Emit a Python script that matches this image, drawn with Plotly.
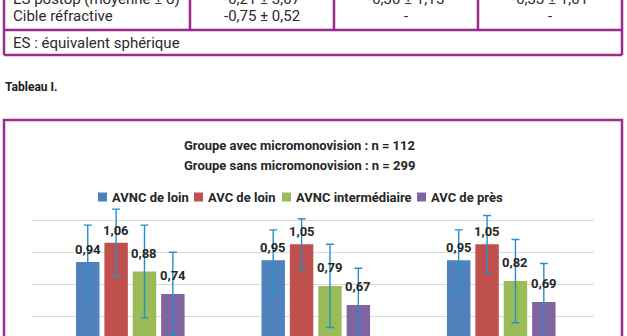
import plotly.graph_objects as go

# ---- data ----
categories = ["Groupe 1", "Groupe 2", "Groupe 3"]
series_names = ["AVNC de loin", "AVC de loin", "AVNC intermédiaire", "AVC de près"]
avnc_loin = [0.94, 0.95, 0.95]
avc_loin = [1.06, 1.05, 1.05]
avnc_inter = [0.88, 0.79, 0.82]
avc_pres = [0.74, 0.67, 0.69]
err_avnc_loin = [0.23, 0.19, 0.19]
err_avc_loin = [0.21, 0.16, 0.18]
err_avnc_inter = [0.29, 0.26, 0.26]
err_avc_pres = [0.26, 0.23, 0.24]

title_lines = ["Groupe avec micromonovision : n = 112",
               "Groupe sans micromonovision : n = 299"]

table_row1 = ["ES postop (moyenne ± σ)", "-0,21 ± 3,07", "-0,30 ± 1,15", "-0,33 ± 1,01"]
table_row2 = ["Cible réfractive", "-0,75 ± 0,52", "-", "-"]
table_note = "ES : équivalent sphérique"
caption = "Tableau I."

series_values = [avnc_loin, avc_loin, avnc_inter, avc_pres]
series_errors = [err_avnc_loin, err_avc_loin, err_avnc_inter, err_avc_pres]
series_colors = ["#4f81bd", "#c0504d", "#9bbb59", "#8064a2"]
label_lift = [12.5, 12.5, 18.5, 18.5]  # px between bar end and label centre

W, H = 627, 336
FONT = "Roboto"
BORDER = "#9c2a8a"
TXT = "#262626"
X_DOMAIN_PX = (32, 594)
X_RANGE = (-0.53, 2.5)
BARGAP, BARGROUPGAP = 0.388, 0.174


def px(x):
    return x / W


def py(y):
    return 1 - y / H


fig = go.Figure()
for name, vals, errs, col in zip(series_names, series_values, series_errors, series_colors):
    fig.add_trace(go.Bar(
        name=name, x=categories, y=vals,
        marker=dict(color=col, line=dict(width=0)),
        error_y=dict(type="data", array=errs, visible=True, color="#2590c8",
                     thickness=1.4, width=4),
        showlegend=False,
    ))

shapes = []
# table borders
line = dict(color=BORDER, width=2.5)
shapes.append(dict(type="line", xref="paper", yref="paper", x0=px(4), x1=px(4), y0=py(-5), y1=py(55), line=line))
shapes.append(dict(type="line", xref="paper", yref="paper", x0=px(622), x1=px(622), y0=py(-5), y1=py(55), line=line))
for xd in (190, 334, 478):
    shapes.append(dict(type="line", xref="paper", yref="paper", x0=px(xd), x1=px(xd), y0=py(-5), y1=py(30), line=line))
shapes.append(dict(type="line", xref="paper", yref="paper", x0=px(4), x1=px(622), y0=py(30), y1=py(30), line=line))
shapes.append(dict(type="line", xref="paper", yref="paper", x0=px(4), x1=px(622), y0=py(55), y1=py(55), line=line))
# chart box
shapes.append(dict(type="rect", xref="paper", yref="paper", x0=px(4), x1=px(622), y0=py(345), y1=py(120),
                   line=line, fillcolor="rgba(0,0,0,0)", layer="below"))

ann = []
col_centers = [None, 262, 406, 550]
for row, yc in ((table_row1, -0.5), (table_row2, 16)):
    for i, t in enumerate(row):
        if i == 0:
            ann.append(dict(text=t, x=px(11), xanchor="left", y=py(yc), yanchor="middle"))
        else:
            ann.append(dict(text=t, x=px(col_centers[i]), xanchor="center", y=py(yc), yanchor="middle"))
ann.append(dict(text=table_note, x=px(11), xanchor="left", y=py(43), yanchor="middle"))
for a in ann:
    a.update(xref="paper", yref="paper", showarrow=False,
             font=dict(family=FONT, size=15, color="#2b2b2b"))
ann.append(dict(text="<b>" + caption + "</b>", x=px(3), xanchor="left", y=py(87), yanchor="middle",
                xref="paper", yref="paper", showarrow=False,
                font=dict(family=FONT, size=12, color="#1a1a1a")))
for t, yc in zip(title_lines, (145, 165)):
    ann.append(dict(text="<b>" + t + "</b>", x=px(299), xanchor="center", y=py(yc), yanchor="middle",
                    xref="paper", yref="paper", showarrow=False,
                    font=dict(family=FONT, size=13, color=TXT)))

# legend (key squares + labels)
legend_text_x = [111, 207, 295, 430]
for name, col, tx in zip(series_names, series_colors, legend_text_x):
    shapes.append(dict(type="rect", xref="paper", yref="paper",
                       x0=px(tx - 13), x1=px(tx - 4), y0=py(201.5), y1=py(192.5),
                       line=dict(width=0), fillcolor=col))
    ann.append(dict(text="<b>" + name + "</b>", x=px(tx - 1), xanchor="left", y=py(197), yanchor="middle",
                    xref="paper", yref="paper", showarrow=False,
                    font=dict(family=FONT, size=13, color=TXT)))

# data labels, anchored on each bar through the axes
px_per_cat = (X_DOMAIN_PX[1] - X_DOMAIN_PX[0]) / (X_RANGE[1] - X_RANGE[0])
slot = px_per_cat * (1 - BARGAP) / len(series_names)
for i, (vals, lift) in enumerate(zip(series_values, label_lift)):
    for cat, v in zip(categories, vals):
        ann.append(dict(text="<b>" + f"{v:.2f}".replace(".", ",") + "</b>",
                        x=cat, y=v, xref="x", yref="y", showarrow=False,
                        xanchor="center", yanchor="middle",
                        xshift=(i - (len(series_names) - 1) / 2) * slot, yshift=lift,
                        font=dict(family=FONT, size=13, color=TXT)))

fig.update_layout(
    width=W, height=H, margin=dict(l=0, r=0, t=0, b=0),
    paper_bgcolor="white", plot_bgcolor="white",
    separators=", ",
    barmode="group", bargap=BARGAP, bargroupgap=BARGROUPGAP,
    showlegend=False,
    xaxis=dict(domain=[px(X_DOMAIN_PX[0]), px(X_DOMAIN_PX[1])], range=list(X_RANGE), showticklabels=False,
               showgrid=False, zeroline=False, showline=False, ticks=""),
    yaxis=dict(domain=[0, py(200)], range=[0.477, 1.327], dtick=0.2, tick0=0,
               showticklabels=False, gridcolor="#d9d9d9", gridwidth=1,
               zeroline=False, showline=False, ticks=""),
    shapes=shapes, annotations=ann,
    font=dict(family=FONT),
)

fig.write_html("out.html")
